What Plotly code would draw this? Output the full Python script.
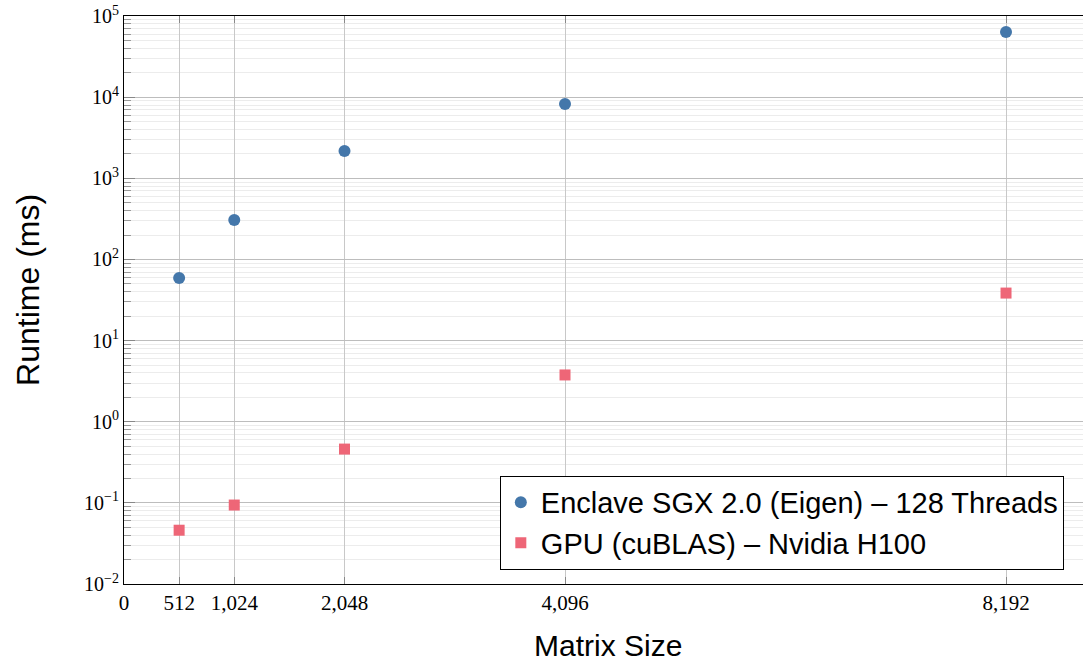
import plotly.graph_objects as go

matrix_sizes = [512, 1024, 2048, 4096, 8192]
enclave_ms = [59, 306, 2170, 8230, 63500]
gpu_ms = [0.046, 0.094, 0.46, 3.77, 38.5]

x_ticks = [0, 512, 1024, 2048, 4096, 8192]
x_tick_text = ["0", "512", "1,024", "2,048", "4,096", "8,192"]
y_ticks = [1e-2, 1e-1, 1e0, 1e1, 1e2, 1e3, 1e4, 1e5]
y_tick_text = ["10<sup>−2</sup>", "10<sup>−1</sup>", "10<sup>0</sup>", "10<sup>1</sup>",
               "10<sup>2</sup>", "10<sup>3</sup>", "10<sup>4</sup>", "10<sup>5</sup>"]
y_minor = [k * 10.0 ** e for e in range(-2, 5) for k in range(2, 10)]

fig = go.Figure()
fig.add_trace(go.Scatter(
    x=matrix_sizes, y=enclave_ms, mode="markers",
    name="Enclave SGX 2.0 (Eigen) – 128 Threads",
    marker=dict(symbol="circle", size=12, color="#4477AA"),
))
fig.add_trace(go.Scatter(
    x=matrix_sizes, y=gpu_ms, mode="markers",
    name="GPU (cuBLAS) – Nvidia H100",
    marker=dict(symbol="square", size=11, color="#EE6677"),
))

serif = "Liberation Serif"
sans = "Liberation Sans"

fig.update_layout(
    width=1083, height=661,
    margin=dict(l=124, r=0, t=16, b=77, autoexpand=False),
    plot_bgcolor="white", paper_bgcolor="white",
    showlegend=True,
    legend=dict(
        x=0.98, y=0.025, xanchor="right", yanchor="bottom",
        bgcolor="white", bordercolor="black", borderwidth=1,
        font=dict(family=sans, size=29, color="black"),
        itemwidth=30, tracegroupgap=0,
    ),
    xaxis=dict(
        range=[0, 8907], automargin=False, ticklabeloverflow="allow",
        tickvals=x_ticks, ticktext=x_tick_text,
        tickfont=dict(family=serif, size=21, color="black"),
        ticks="inside", ticklen=7, tickcolor="#888888",
        showline=True, linecolor="black", linewidth=1.2, mirror="ticks",
        showgrid=True, gridcolor="#c8c8c8", gridwidth=1,
        zeroline=False,
    ),
    yaxis=dict(
        type="log", range=[-2, 5], automargin=False, ticklabeloverflow="allow",
        tickvals=y_ticks, ticktext=y_tick_text,
        tickfont=dict(family=serif, size=20, color="black"),
        ticks="inside", ticklen=11, tickcolor="#888888",
        showline=True, linecolor="black", linewidth=1.2,
        showgrid=True, gridcolor="#bdbdbd", gridwidth=1,
        zeroline=False,
        minor=dict(tickvals=y_minor, ticks="inside", ticklen=7, tickcolor="#999999",
                   showgrid=True, gridcolor="#ececec", gridwidth=1),
    ),
    annotations=[
        dict(text="Matrix Size", xref="paper", yref="paper", x=0.505, y=-0.108,
             xanchor="center", yanchor="middle", showarrow=False,
             font=dict(family=sans, size=30, color="black")),
        dict(text="Runtime (ms)", xref="paper", yref="paper", x=-0.1, y=0.518,
             xanchor="center", yanchor="middle", showarrow=False, textangle=-90,
             font=dict(family=sans, size=32, color="black")),
    ],
)

fig.write_html(
    "out.html",
    config={"displayModeBar": False},
    post_script="document.body.style.margin='0px';document.body.style.overflow='hidden';",
)
